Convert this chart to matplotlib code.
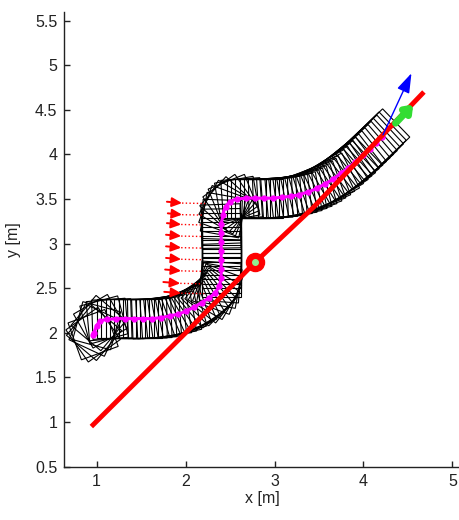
import numpy as np
import matplotlib
matplotlib.use("Agg")
import matplotlib.pyplot as plt
from matplotlib.patches import Rectangle

plt.rcParams['font.family'] = ['Liberation Sans', 'DejaVu Sans']

# robot poses along the executed path: x [m], y [m], heading [deg]
pose_x = [0.96, 0.96, 0.97, 0.98, 1.00, 1.02, 1.04, 1.08, 1.12,
          1.17, 1.22, 1.27, 1.32, 1.37, 1.42, 1.47, 1.52, 1.57, 1.62, 1.67, 1.72,
          1.77, 1.82, 1.87, 1.92, 1.97, 2.01, 2.06, 2.10, 2.14, 2.18, 2.22, 2.26,
          2.30, 2.33, 2.36, 2.38, 2.39,
          2.40, 2.40, 2.40, 2.40, 2.40, 2.40, 2.40, 2.40, 2.40, 2.40, 2.40, 2.40, 2.40,
          2.41, 2.42, 2.43, 2.45, 2.47, 2.50, 2.54, 2.58, 2.63,
          2.68, 2.73, 2.78, 2.83, 2.88, 2.93, 2.98, 3.03, 3.08, 3.13, 3.18, 3.23,
          3.28, 3.33, 3.38, 3.43, 3.48, 3.52, 3.57, 3.61, 3.66, 3.70, 3.75, 3.79,
          3.83, 3.87, 3.91, 3.95, 3.99, 4.03, 4.07, 4.10, 4.14, 4.17, 4.21]
pose_y = [1.98, 1.98, 2.00, 2.03, 2.08, 2.11, 2.13, 2.145, 2.15,
          2.155, 2.16, 2.16, 2.16, 2.16, 2.16, 2.16, 2.16, 2.16, 2.16, 2.165, 2.17,
          2.18, 2.19, 2.20, 2.21, 2.23, 2.25, 2.27, 2.29, 2.315, 2.34, 2.365, 2.39,
          2.42, 2.45, 2.49, 2.53, 2.57,
          2.62, 2.67, 2.72, 2.77, 2.82, 2.87, 2.92, 2.97, 3.02, 3.07, 3.12, 3.17, 3.22,
          3.27, 3.32, 3.37, 3.41, 3.44, 3.47, 3.49, 3.50, 3.505,
          3.51, 3.51, 3.51, 3.51, 3.51, 3.51, 3.51, 3.515, 3.52, 3.525, 3.53, 3.54,
          3.55, 3.565, 3.58, 3.60, 3.62, 3.645, 3.67, 3.695, 3.72, 3.755, 3.79, 3.82,
          3.85, 3.885, 3.92, 3.955, 3.99, 4.025, 4.06, 4.095, 4.13, 4.165, 4.20]
pose_th = [20, 35, 50, 65, 75, 50, 30, 15, 5,
           2, 0, 0, 0, 0, 0, 0, 0, 1, 2, 3, 4,
           6, 8, 10, 12, 16, 20, 23, 25, 30, 35, 40, 45,
           52, 60, 70, 80, 86,
           90, 90, 90, 90, 90, 90, 90, 90, 90, 90, 90, 91, 92,
           88, 80, 70, 60, 48, 35, 22, 10, 4,
           0, 0, 0, 0, 0, 1, 2, 3, 4, 5, 7, 8,
           10, 12, 14, 16, 18, 20, 22, 25, 27, 30, 32, 34,
           35, 37, 38, 39, 40, 41, 42, 43, 43, 44, 44]
robot_w = 0.44
robot_h = 0.44

# target line (red)
line_x = [0.94, 2.00, 2.78, 3.43, 4.68]
line_y = [0.95, 2.00, 2.79, 3.40, 4.70]
target_x, target_y = 2.78, 2.80

# sensor arrows on the left side
arr_y = [3.47, 3.34, 3.23, 3.10, 2.97, 2.84, 2.71, 2.57, 2.46]
arr_x0 = [1.79, 1.80, 1.79, 1.78, 1.78, 1.78, 1.77, 1.75, 1.76]
arr_len = [0.17, 0.16, 0.16, 0.17, 0.17, 0.17, 0.18, 0.19, 0.19]
dot_end = [2.22, 2.20, 2.19, 2.19, 2.19, 2.19, 2.19, 2.19, 2.21]

# heading arrows at the end
blue_from, blue_to = (4.22, 4.22), (4.54, 4.91)
green_from, green_to = (4.36, 4.35), (4.56, 4.56)

fig = plt.figure(figsize=(4.6, 5.2), dpi=100)
ax = fig.add_axes([0.1398, 0.1025, 0.861, 0.875])

for x, y, th in zip(pose_x, pose_y, pose_th):
    ax.add_patch(Rectangle((x - robot_w / 2, y - robot_h / 2), robot_w, robot_h,
                           angle=th, rotation_point='center', fill=False,
                           ec='black', lw=0.8, zorder=2))

ax.plot(pose_x, pose_y, '-', color='#ff00ff', lw=2.2, marker='.', ms=7,
        markevery=2, zorder=3)

ax.plot(line_x, line_y, '-', color='#ff0000', lw=3.5, solid_capstyle='butt', zorder=4)
ax.plot(target_x, target_y, 'o', color='#ff0000', ms=13, zorder=5)
ax.plot(target_x, target_y, 'o', color='#90ee90', ms=4, zorder=6)

for y, x0, L, xe in zip(arr_y, arr_x0, arr_len, dot_end):
    ax.annotate('', xy=(x0 + L, y - 0.015), xytext=(x0, y),
                arrowprops=dict(arrowstyle='-|>,head_length=0.6,head_width=0.28',
                                color='#ff0000', lw=1.4, shrinkA=0, shrinkB=0), zorder=4)
    ax.plot([x0 + L, xe], [y - 0.015, y - 0.02], ':', color='#ff0000', lw=1.0, zorder=4)

ax.annotate('', xy=green_to, xytext=green_from,
            arrowprops=dict(arrowstyle='-|>,head_length=0.4,head_width=0.3',
                            color='#33dd33', lw=5, shrinkA=0, shrinkB=0), zorder=7)
ax.annotate('', xy=blue_to, xytext=blue_from,
            arrowprops=dict(arrowstyle='-|>,head_length=1.2,head_width=0.4',
                            color='#0000ff', lw=1.0, shrinkA=0, shrinkB=0), zorder=7)

ax.set_xlim(0.636, 5.09)
ax.set_ylim(0.5, 5.6)
ax.set_xticks([1, 2, 3, 4, 5])
ax.set_yticks(np.arange(0.5, 5.51, 0.5))
ax.set_yticklabels(['0.5', '1', '1.5', '2', '2.5', '3', '3.5', '4', '4.5', '5', '5.5'])
ax.tick_params(direction='in', length=4, width=1, labelsize=11.5, colors='#222222', pad=5)
ax.spines[['top', 'right']].set_visible(False)
for s in ['left', 'bottom']:
    ax.spines[s].set_linewidth(1.0)
    ax.spines[s].set_color('#222222')
ax.set_xlabel('x [m]', fontsize=11.5, color='#222222', labelpad=2)
ax.set_ylabel('y [m]', fontsize=11.5, color='#222222', labelpad=10)

fig.savefig('out.png', dpi=100)
